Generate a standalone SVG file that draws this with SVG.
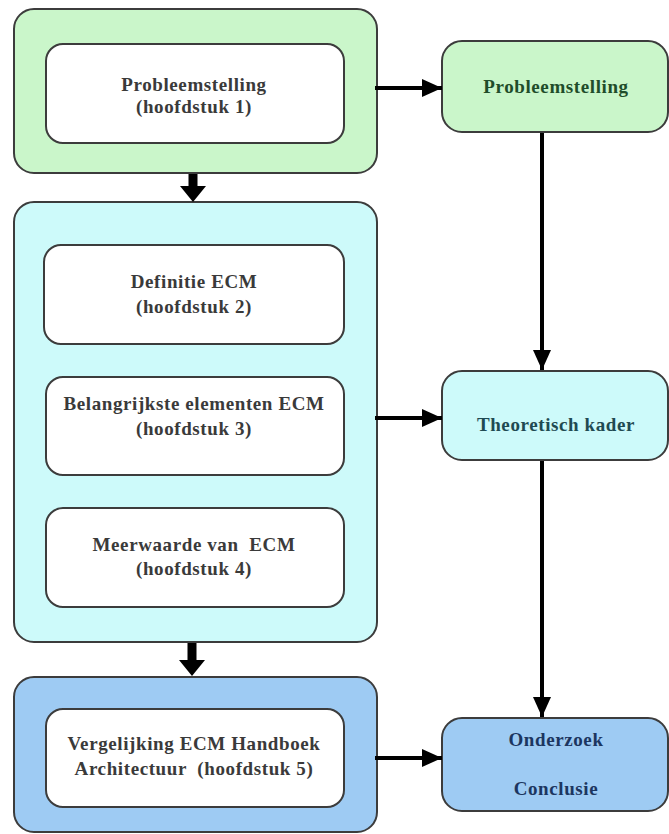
<svg xmlns="http://www.w3.org/2000/svg" width="669" height="834" viewBox="0 0 669 834">
  <defs>
    <marker id="head" markerUnits="userSpaceOnUse" markerWidth="20" markerHeight="18" refX="20" refY="9" orient="auto">
      <path d="M0,0 L20,9 L0,18 Z" fill="#000"/>
    </marker>
  </defs>
  <style>
    .outer { stroke: #3c3c3c; stroke-width: 2; }
    .inner { fill: #ffffff; stroke: #3c3c3c; stroke-width: 2; }
    .green { fill: #caf6ca; }
    .cyan { fill: #cdfafa; }
    .blue { fill: #9ecbf3; }
    .lbl { font-family: "Liberation Serif", "Times New Roman", serif; font-weight: bold; font-size: 19px; text-anchor: middle; letter-spacing: 0.6px; white-space: pre; }
    .dark { fill: #3a3a3a; }
    .tg { fill: #1f4d2a; }
    .tc { fill: #1f4a52; }
    .tb { fill: #1c3660; }
    .wire { stroke: #000; stroke-width: 4; fill: none; marker-end: url(#head); }
  </style>
  <rect width="669" height="834" fill="#ffffff"/>

  <!-- left column: chapter groups -->
  <g id="group-probleemstelling">
    <rect class="outer green" x="14" y="9" width="363" height="164" rx="20"/>
    <rect class="inner" x="46" y="44" width="298" height="99" rx="17"/>
    <text class="lbl dark" x="194" y="91">Probleemstelling</text>
    <text class="lbl dark" x="194" y="113">(hoofdstuk 1)</text>
  </g>

  <g id="group-theorie">
    <rect class="outer cyan" x="14" y="202" width="363" height="440" rx="20"/>
    <g id="definitie">
      <rect class="inner" x="44" y="245" width="300" height="99" rx="17"/>
      <text class="lbl dark" x="194" y="288">Definitie ECM</text>
      <text class="lbl dark" x="194" y="313">(hoofdstuk 2)</text>
    </g>
    <g id="elementen">
      <rect class="inner" x="46" y="377" width="298" height="98" rx="17"/>
      <text class="lbl dark" x="194" y="410">Belangrijkste elementen ECM</text>
      <text class="lbl dark" x="194" y="435">(hoofdstuk 3)</text>
    </g>
    <g id="meerwaarde">
      <rect class="inner" x="46" y="508" width="298" height="99" rx="17"/>
      <text class="lbl dark" x="194" y="551">Meerwaarde van  ECM</text>
      <text class="lbl dark" x="194" y="575">(hoofdstuk 4)</text>
    </g>
  </g>

  <g id="group-vergelijking">
    <rect class="outer blue" x="14" y="677" width="363" height="155" rx="20"/>
    <rect class="inner" x="46" y="709" width="298" height="98" rx="17"/>
    <text class="lbl dark" x="194" y="750">Vergelijking ECM Handboek</text>
    <text class="lbl dark" x="194" y="775">Architectuur  (hoofdstuk 5)</text>
  </g>

  <!-- right column: phases -->
  <g id="fase-probleemstelling">
    <rect class="outer green" x="442" y="41" width="226" height="91" rx="20"/>
    <text class="lbl tg" x="556" y="93">Probleemstelling</text>
  </g>
  <g id="fase-theoretisch">
    <rect class="outer cyan" x="442" y="371" width="226" height="89" rx="20"/>
    <text class="lbl tc" x="556" y="431">Theoretisch kader</text>
  </g>
  <g id="fase-onderzoek">
    <rect class="outer blue" x="442" y="718" width="226" height="93" rx="20"/>
    <text class="lbl tb" x="556" y="746">Onderzoek</text>
    <text class="lbl tb" x="556" y="795">Conclusie</text>
  </g>

  <!-- connectors -->
  <g id="connectors">
    <polygon points="188.5,174 197.5,174 197.5,186 206,186 193,202 180,186 188.5,186" fill="#000"/>
    <polygon points="187.5,643 196.5,643 196.5,660 205,660 192,676 179,660 187.5,660" fill="#000"/>
    <line class="wire" x1="375" y1="88" x2="442" y2="88"/>
    <line class="wire" x1="542" y1="133" x2="542" y2="370"/>
    <line class="wire" x1="375" y1="418" x2="442" y2="418"/>
    <line class="wire" x1="542" y1="461" x2="542" y2="717"/>
    <line class="wire" x1="375" y1="758" x2="442" y2="758"/>
  </g>
</svg>
